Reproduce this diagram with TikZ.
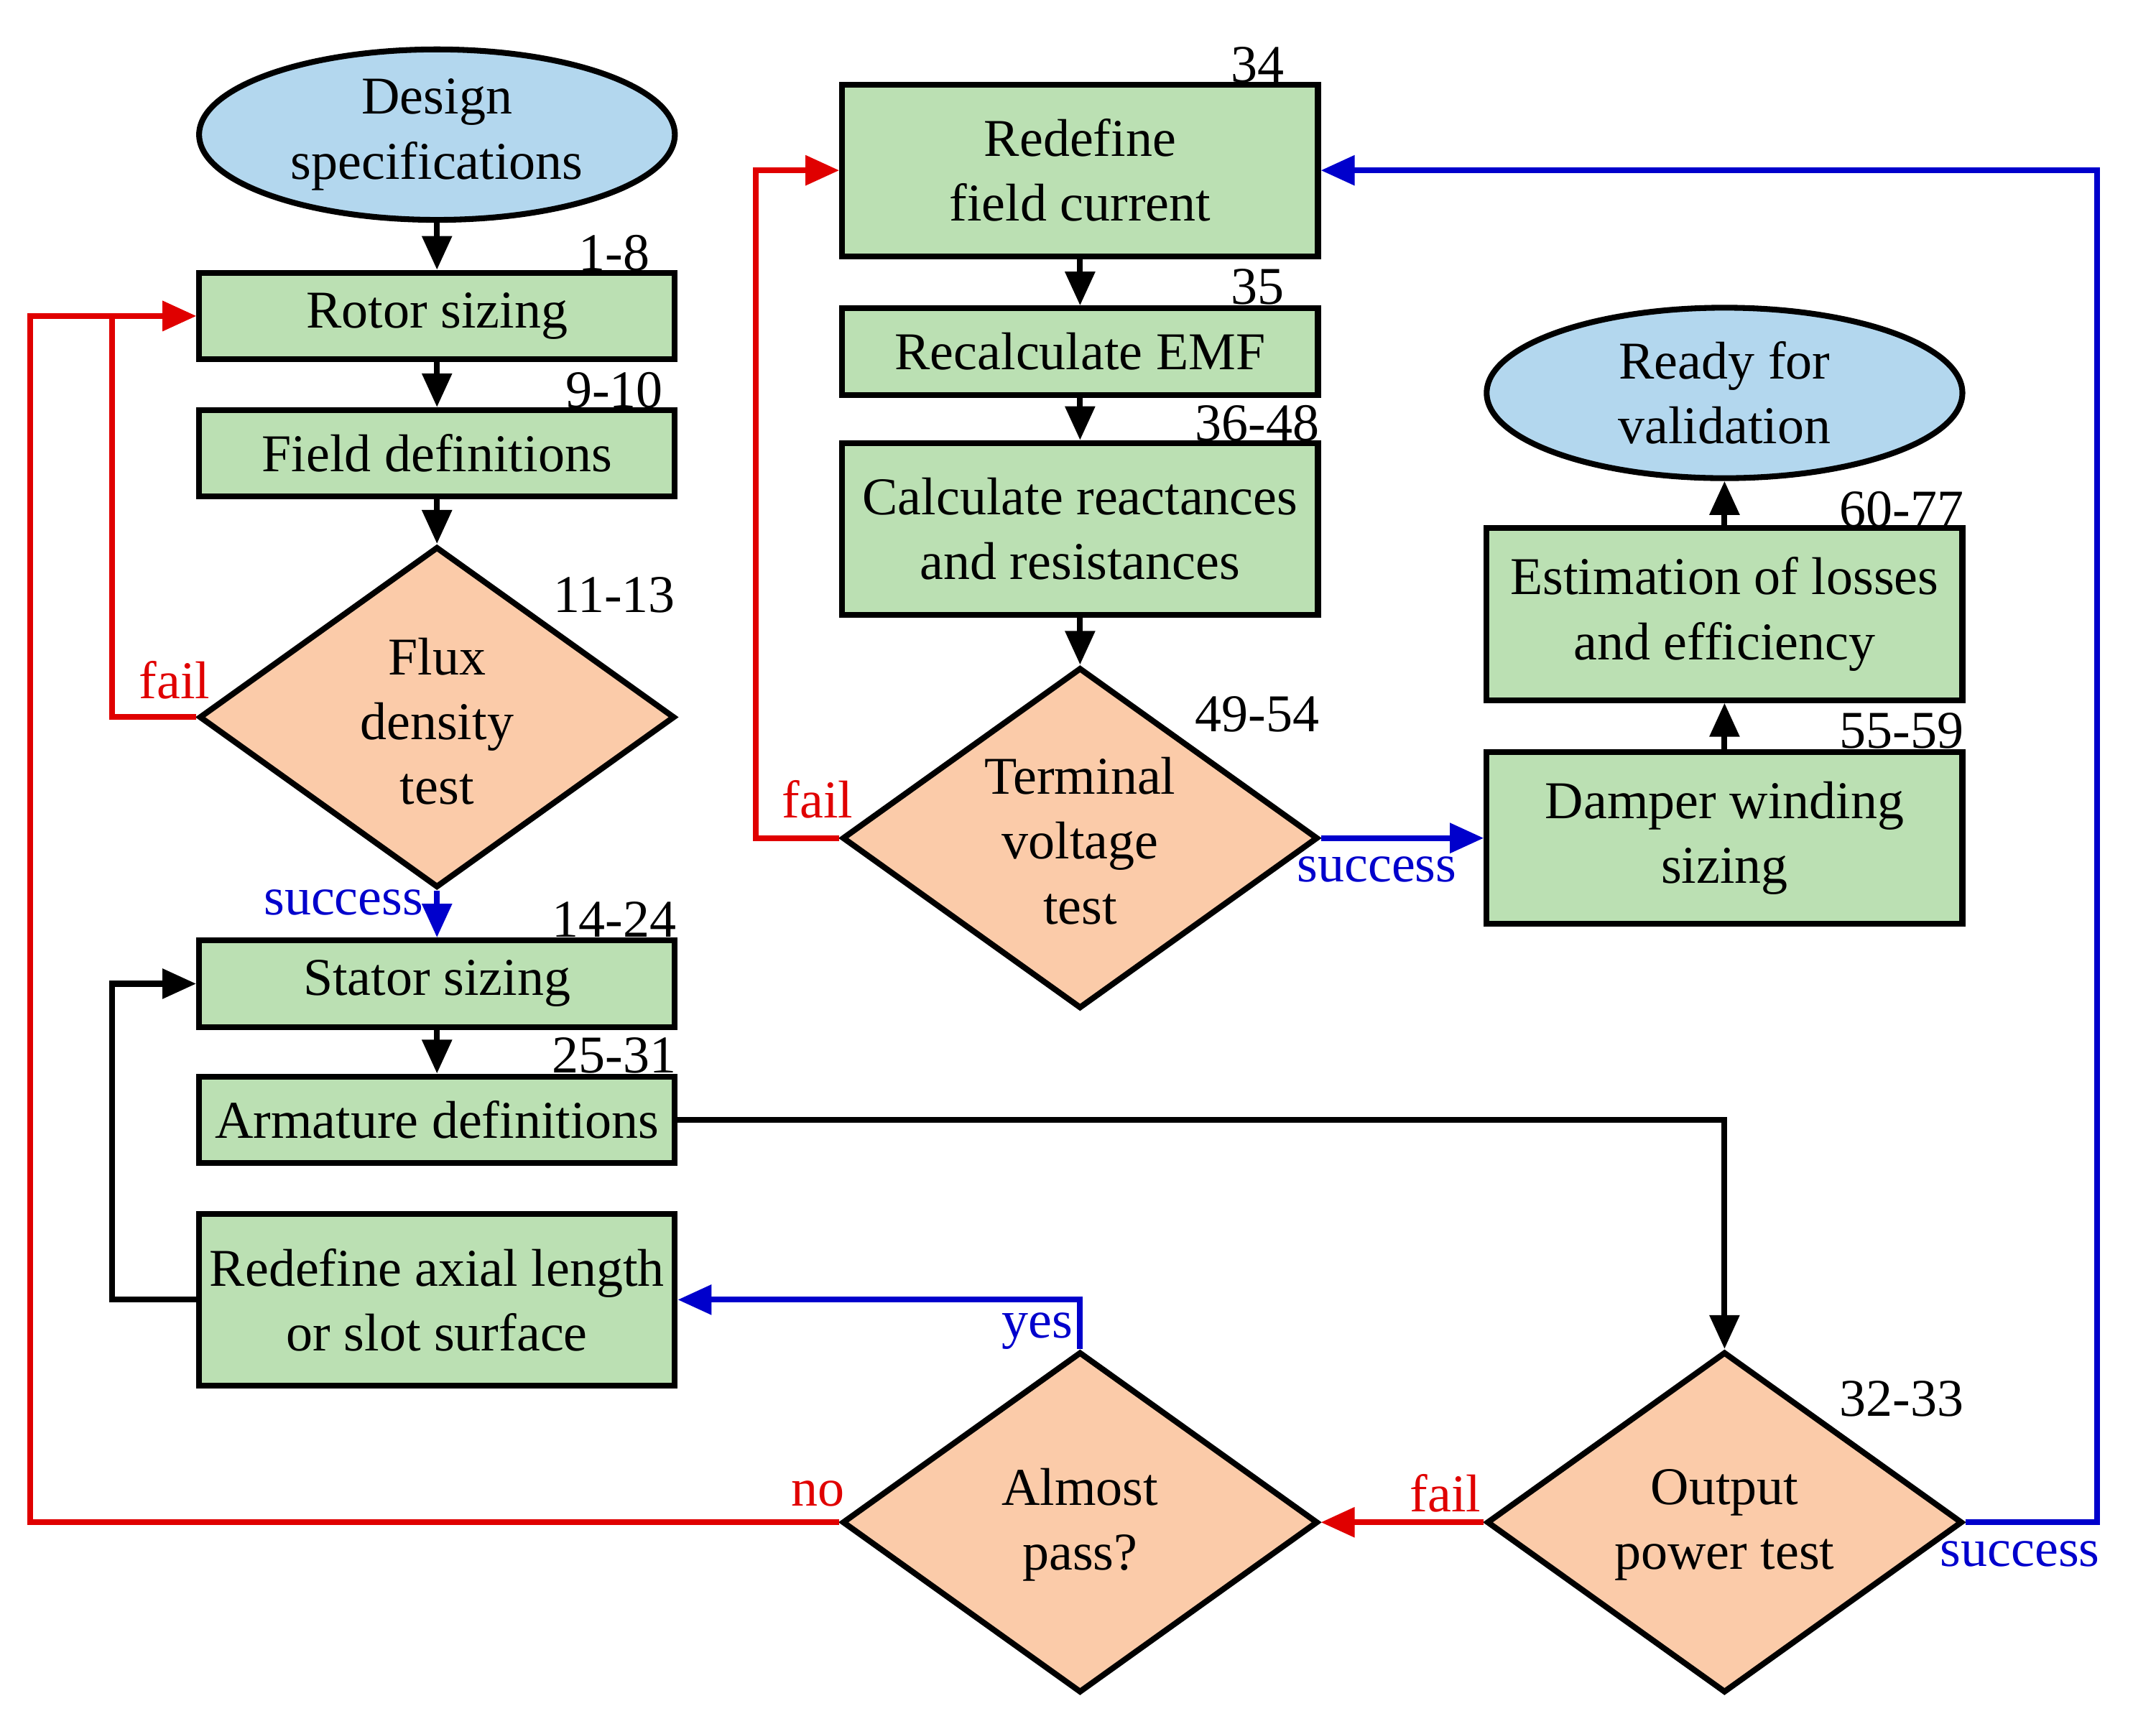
\documentclass[tikz,border=0pt]{standalone}
\usepackage{fontspec}
\setmainfont{Liberation Serif}
\usetikzlibrary{shapes.geometric,arrows.meta}
\definecolor{gfill}{HTML}{BBE0B3}
\definecolor{bfill}{HTML}{B3D7EE}
\definecolor{ofill}{HTML}{FBCBA9}
\definecolor{rline}{HTML}{E00000}
\definecolor{bline}{HTML}{0000CC}
\begin{document}
\begin{tikzpicture}[x=0.01cm,y=-0.01cm,
  font=\fontsize{11}{13.4}\selectfont,
  box/.style={draw,line width=1.2pt,fill=gfill,minimum width=3.46cm,inner sep=0pt,align=center},
  sbox/.style={box,minimum height=0.63cm},
  tbox/.style={box,minimum height=1.25cm},
  ell/.style={draw,line width=1.2pt,fill=bfill,ellipse,minimum width=3.46cm,minimum height=1.24cm,inner sep=0pt,align=center},
  dia/.style={draw,line width=1.2pt,fill=ofill,diamond,aspect=1.395,minimum width=3.46cm,minimum height=2.48cm,inner sep=0pt},
  dtxt/.style={align=center,inner sep=0pt},
  num/.style={font=\fontsize{11}{13}\selectfont,inner sep=0pt},
  con/.style={line width=1.2pt,-{Triangle[length=7pt,width=6pt]}},
  red/.style={con,rline}, blu/.style={con,bline},
  rl/.style={text=rline,inner sep=0pt}, bl/.style={text=bline,inner sep=0pt}]
\useasboundingbox (0,0) rectangle (1569,1258);
% left column
\node[ell] (spec) at (318,98) {Design\\specifications};
\node[sbox] (rotor) at (318,230) {Rotor sizing};
\node[sbox] (field) at (318,330) {Field definitions};
\node[dia] (flux) at (318,522) {};
\node[dtxt] at (318,525) {Flux\\density\\test};
\node[sbox] (stator) at (318,716) {Stator sizing};
\node[sbox] (arm) at (318,815) {Armature definitions};
\node[tbox] (axial) at (318,946) {Redefine axial length\\or slot surface};
% middle column
\node[tbox] (rfc) at (786,124) {Redefine\\field current};
\node[sbox] (emf) at (786,256) {Recalculate EMF};
\node[tbox] (react) at (786,385) {Calculate reactances\\and resistances};
\node[dia] (term) at (786,610) {};
\node[dtxt] at (786,612) {Terminal\\voltage\\test};
\node[dia] (almost) at (786,1108) {};
\node[dtxt] at (786,1110) {Almost\\pass?};
% right column
\node[ell] (ready) at (1255,286) {Ready for\\validation};
\node[tbox] (loss) at (1255,447) {Estimation of losses\\and efficiency};
\node[tbox] (damp) at (1255,610) {Damper winding\\sizing};
\node[dia] (out) at (1255,1108) {};
\node[dtxt] at (1255,1110) {Output\\power test};
% numbers
\node[num] at (447,184) {1-8};
\node[num] at (447,284) {9-10};
\node[num] at (447,433) {11-13};
\node[num] at (447,669) {14-24};
\node[num] at (447,768) {25-31};
\node[num] at (915,47) {34};
\node[num] at (915,209) {35};
\node[num] at (915,308) {36-48};
\node[num] at (915,520) {49-54};
\node[num] at (1384,371) {60-77};
\node[num] at (1384,532) {55-59};
\node[num] at (1384,1018) {32-33};
% black connectors
\draw[con] (spec) -- (rotor);
\draw[con] (rotor) -- (field);
\draw[con] (field) -- (flux);
\draw[con] (stator) -- (arm);
\draw[con] (axial.west) -- ++(-61,0) |- (stator.west);
\draw[con] (arm.east) -| (out.north);
\draw[con] (rfc) -- (emf);
\draw[con] (emf) -- (react);
\draw[con] (react) -- (term.north);
\draw[con] (damp) -- (loss);
\draw[con] (loss) -- (ready);
% red
\draw[red] (flux.west) -- ++(-61,0) |- (rotor.west);
\draw[red] (almost.west) -- (22,1108) |- (rotor.west);
\draw[red] (out.west) -- (almost.east);
\draw[red] (term.west) -- ++(-61,0) |- (rfc.west);
% blue
\draw[blu] (flux.south) -- (stator.north);
\draw[blu] (almost.north) |- (axial.east);
\draw[blu] (out.east) -- (1526,1108) |- (rfc.east);
\draw[blu] (term.east) -- (damp.west);
% labels
\node[rl] at (127,495) {fail};
\node[rl] at (595,1087) {no};
\node[rl] at (1052,1087) {fail};
\node[rl] at (595,582) {fail};
\node[bl] at (250,657) {success};
\node[bl] at (755,969) {yes};
\node[bl] at (1470,1131) {success};
\node[bl] at (1002,633) {success};
\end{tikzpicture}
\end{document}
